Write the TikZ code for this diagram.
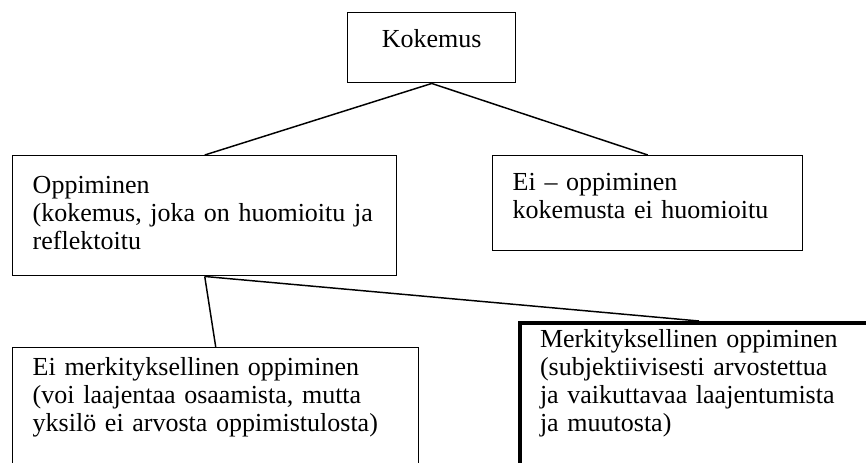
\documentclass[tikz,border=0pt]{standalone}
\usepackage{fontspec}
\setmainfont{Liberation Serif}
\begin{document}
\begin{tikzpicture}[x=0.75pt,y=-0.75pt,
  box/.style={draw, line width=1.1pt, anchor=north west, inner xsep=15pt, inner ysep=0pt,
    align=left, font=\fontsize{19.5pt}{21pt}\selectfont}]
\path[use as bounding box, clip] (0,0) rectangle (866,463);
\node[box, align=center, text width=96pt, text height=26.25pt, text depth=26.25pt] (kok) at (347,12) {Kokemus};
\node[box, text width=258pt, text height=28.5pt, text depth=61.5pt] (opp) at (12,155)
  {Oppiminen\\(kokemus, joka on huomioitu ja\\reflektoitu};
\node[box, text width=202.5pt, text height=26.25pt, text depth=45pt] (eiopp) at (492,155)
  {Ei – oppiminen\\kokemusta ei huomioitu};
\node[box, text width=274.5pt, text height=21pt, text depth=78.75pt] (eimerk) at (12,347)
  {Ei merkityksellinen oppiminen\\(voi laajentaa osaamista, mutta\\yksilö ei arvosta oppimistulosta)};
\node[box, line width=3pt, text width=238.5pt, text height=18pt, text depth=101.25pt] (merk) at (518,321)
  {Merkityksellinen oppiminen\\(subjektiivisesti arvostettua\\ja vaikuttavaa laajentumista\\ja muutosta)};
\foreach \a/\b in {kok/opp, kok/eiopp, opp/eimerk, opp/merk}
\draw[line width=1.1pt] (\a.south) -- (\b.north);
\end{tikzpicture}
\end{document}
